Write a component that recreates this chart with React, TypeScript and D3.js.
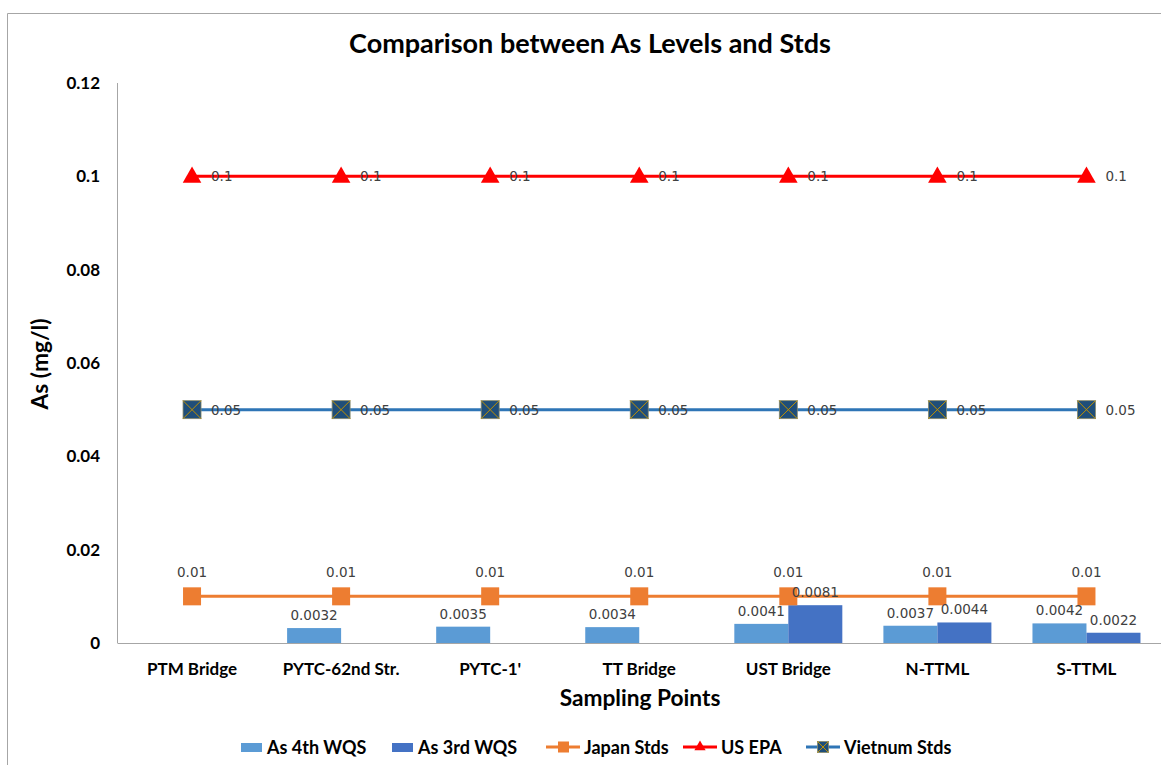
import React from "react";
import * as d3 from "d3";

const categories = ["PTM Bridge", "PYTC-62nd Str.", "PYTC-1'", "TT Bridge", "UST Bridge", "N-TTML", "S-TTML"];
const as4th: (number | null)[] = [null, 0.0032, 0.0035, 0.0034, 0.0041, 0.0037, 0.0042];
const as3rd: (number | null)[] = [null, null, null, null, 0.0081, 0.0044, 0.0022];
const japanStds = [0.01, 0.01, 0.01, 0.01, 0.01, 0.01, 0.01];
const usEpa = [0.1, 0.1, 0.1, 0.1, 0.1, 0.1, 0.1];
const vietnamStds = [0.05, 0.05, 0.05, 0.05, 0.05, 0.05, 0.05];
const yTicks = [0, 0.02, 0.04, 0.06, 0.08, 0.1, 0.12];
const yTickLabels = ["0", "0.02", "0.04", "0.06", "0.08", "0.1", "0.12"];

const W = 1161;
const H = 765;
const left = 117.5;
const right = 1161;
const top = 83;
const bottom = 643;

const C_LIGHT = "#5B9BD5";
const C_DARK = "#4472C4";
const C_ORANGE = "#ED7D31";
const C_RED = "#FF0000";
const C_VLINE = "#2E75B6";
const C_VFILL = "#1F4E79";
const C_GOLD = "#BF9000";
const LBL = "#404040";
const FONT = "Lato, 'Open Sans', sans-serif";
const LFONT = "'DejaVu Sans', sans-serif";
const LSIZE = 13.5;

export default function App() {
  const x = d3.scaleBand<string>().domain(categories).range([left, right]);
  const y = d3.scaleLinear().domain([0, 0.12]).range([bottom, top]);
  const bw = 54;
  const cx = (c: string) => (x(c) as number) + x.bandwidth() / 2;
  const lineGen = d3
    .line<number>()
    .x((_, i) => cx(categories[i]))
    .y((d) => y(d));

  const tri = d3.symbol().type(d3.symbolTriangle).size(150)() as string;
  const triSmall = d3.symbol().type(d3.symbolTriangle).size(55)() as string;

  const vMarker = (px: number, py: number, s: number, key?: string) => (
    <g key={key} transform={`translate(${px},${py})`}>
      <rect x={-s / 2} y={-s / 2} width={s} height={s} fill={C_VFILL} stroke="#8a8a6a" strokeWidth={0.8} />
      <line x1={-s / 2} y1={-s / 2} x2={s / 2} y2={s / 2} stroke={C_GOLD} strokeWidth={1} />
      <line x1={-s / 2} y1={s / 2} x2={s / 2} y2={-s / 2} stroke={C_GOLD} strokeWidth={1} />
    </g>
  );

  const legendY = 747;

  return (
    <svg width={W} height={H} style={{ position: "absolute", left: 0, top: 0, background: "#fff" }}>
      <rect x={0} y={0} width={W} height={H} fill="#fff" />
      {/* chart border */}
      <line x1={7.5} y1={13.5} x2={W} y2={13.5} stroke="#a6a6a6" strokeWidth={1} />
      <line x1={7.5} y1={13.5} x2={7.5} y2={H} stroke="#a6a6a6" strokeWidth={1} />

      {/* title */}
      <text x={590} y={53} textAnchor="middle" fontFamily={FONT} fontWeight="bold" fontSize={27} fill="#000">
        Comparison between As Levels and Stds
      </text>

      {/* axes */}
      <line x1={left} y1={top} x2={left} y2={bottom} stroke="#a6a6a6" strokeWidth={1} />
      <line x1={left} y1={bottom + 0.5} x2={right} y2={bottom + 0.5} stroke="#a6a6a6" strokeWidth={1} />

      {yTicks.map((t, i) => (
        <text key={t} x={100} y={y(t) + 6} textAnchor="end" fontFamily={FONT} fontWeight="bold" fontSize={17} fill="#000">
          {yTickLabels[i]}
        </text>
      ))}

      {categories.map((c) => (
        <text key={c} x={cx(c)} y={675} textAnchor="middle" fontFamily={FONT} fontWeight="bold" fontSize={17} fill="#000">
          {c}
        </text>
      ))}

      <text
        transform={`translate(48,364) rotate(-90)`}
        textAnchor="middle"
        fontFamily={FONT}
        fontWeight="bold"
        fontSize={22.7}
        fill="#000"
      >
        As (mg/l)
      </text>
      <text x={640} y={706} textAnchor="middle" fontFamily={FONT} fontWeight="bold" fontSize={22.7} fill="#000">
        Sampling Points
      </text>

      {/* bars */}
      {categories.map((c, i) => {
        const v = as4th[i];
        if (v == null) return null;
        return <rect key={"a4" + c} x={cx(c) - bw} y={y(v)} width={bw} height={bottom - y(v)} fill={C_LIGHT} />;
      })}
      {categories.map((c, i) => {
        const v = as3rd[i];
        if (v == null) return null;
        return <rect key={"a3" + c} x={cx(c)} y={y(v)} width={bw} height={bottom - y(v)} fill={C_DARK} />;
      })}

      {/* lines */}
      <path d={lineGen(japanStds) as string} fill="none" stroke={C_ORANGE} strokeWidth={3} />
      <path d={lineGen(usEpa) as string} fill="none" stroke={C_RED} strokeWidth={3} />
      <path d={lineGen(vietnamStds) as string} fill="none" stroke={C_VLINE} strokeWidth={3} />

      {/* markers */}
      {japanStds.map((v, i) => (
        <rect key={"j" + i} x={cx(categories[i]) - 9} y={y(v) - 9} width={18} height={18} fill={C_ORANGE} />
      ))}
      {usEpa.map((v, i) => (
        <path key={"u" + i} d={tri} transform={`translate(${cx(categories[i])},${y(v) + 1})`} fill={C_RED} />
      ))}
      {vietnamStds.map((v, i) => vMarker(cx(categories[i]), y(v), 18, "v" + i))}

      {/* data labels */}
      {categories.map((c, i) => {
        const v = as4th[i];
        if (v == null) return null;
        return (
          <text key={"l4" + c} x={cx(c) - bw / 2} y={y(v) - 8} textAnchor="middle" fontFamily={LFONT} fontSize={LSIZE} fill={LBL}>
            {String(v)}
          </text>
        );
      })}
      {categories.map((c, i) => {
        const v = as3rd[i];
        if (v == null) return null;
        return (
          <text key={"l3" + c} x={cx(c) + bw / 2} y={y(v) - 8} textAnchor="middle" fontFamily={LFONT} fontSize={LSIZE} fill={LBL}>
            {String(v)}
          </text>
        );
      })}
      {japanStds.map((v, i) => (
        <text key={"lj" + i} x={cx(categories[i])} y={y(v) - 19} textAnchor="middle" fontFamily={LFONT} fontSize={LSIZE} fill={LBL}>
          {String(v)}
        </text>
      ))}
      {usEpa.map((v, i) => (
        <text key={"lu" + i} x={cx(categories[i]) + 19} y={y(v) + 5} fontFamily={LFONT} fontSize={LSIZE} fill={LBL}>
          {String(v)}
        </text>
      ))}
      {vietnamStds.map((v, i) => (
        <text key={"lv" + i} x={cx(categories[i]) + 19} y={y(v) + 5} fontFamily={LFONT} fontSize={LSIZE} fill={LBL}>
          {String(v)}
        </text>
      ))}

      {/* legend */}
      <g fontFamily={FONT} fontWeight="bold" fontSize={18} fill="#000">
        <rect x={241} y={legendY - 4} width={21} height={9} fill={C_LIGHT} />
        <text x={267} y={legendY + 6.5}>As 4th WQS</text>
        <rect x={392} y={legendY - 4} width={21} height={9} fill={C_DARK} />
        <text x={418} y={legendY + 6.5}>As 3rd WQS</text>

        <line x1={546} y1={legendY} x2={580} y2={legendY} stroke={C_ORANGE} strokeWidth={3} />
        <rect x={558} y={legendY - 5.5} width={11} height={11} fill={C_ORANGE} />
        <text x={584} y={legendY + 6.5}>Japan Stds</text>

        <line x1={683} y1={legendY} x2={717} y2={legendY} stroke={C_RED} strokeWidth={3} />
        <path d={triSmall} transform={`translate(700,${legendY})`} fill={C_RED} />
        <text x={721} y={legendY + 6.5}>US EPA</text>

        <line x1={806} y1={legendY} x2={840} y2={legendY} stroke={C_VLINE} strokeWidth={3} />
        {vMarker(823, legendY, 11)}
        <text x={844} y={legendY + 6.5}>Vietnum Stds</text>
      </g>
    </svg>
  );
}
